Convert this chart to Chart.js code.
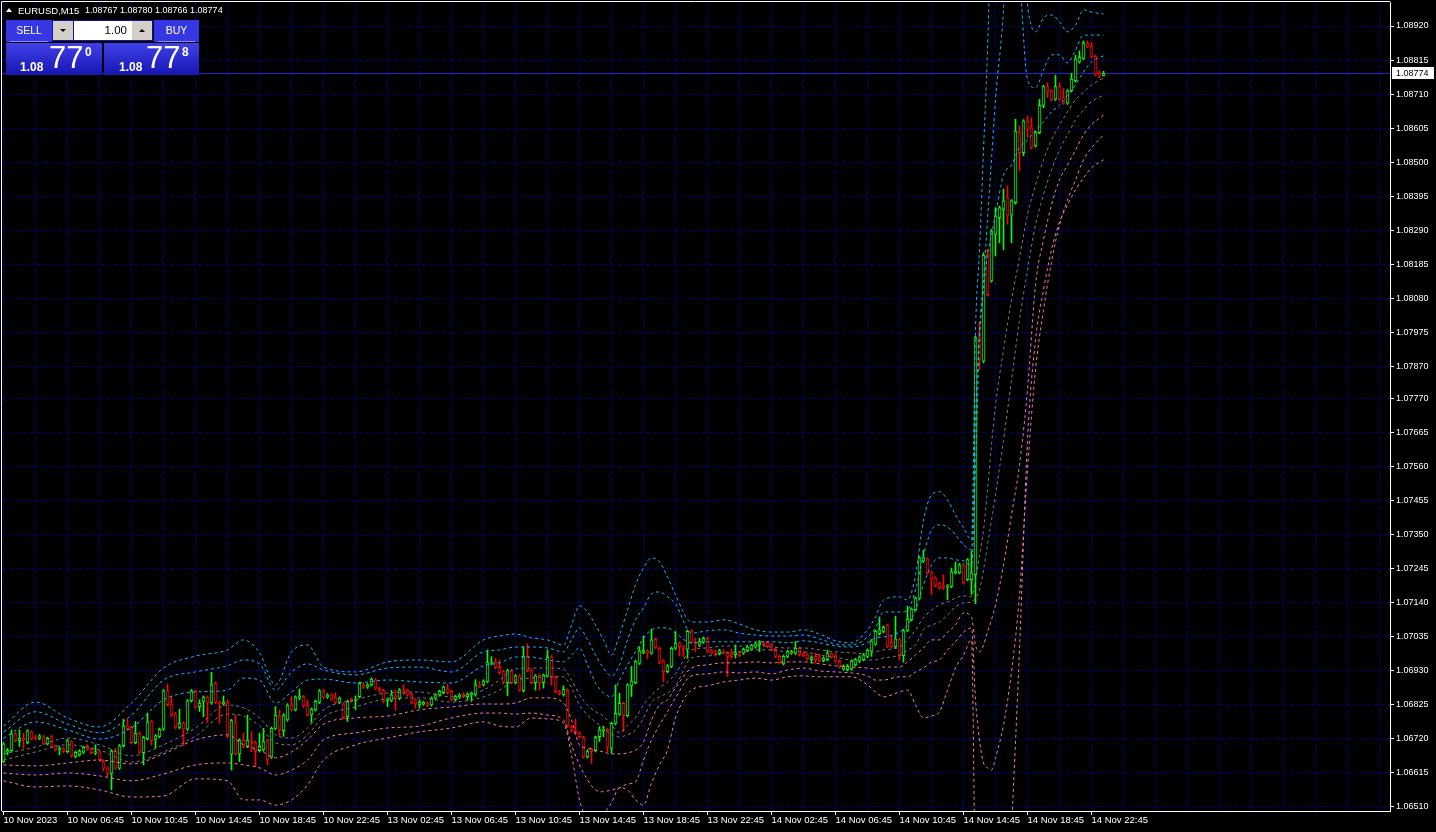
<!DOCTYPE html>
<html lang="en">
<head>
<meta charset="UTF-8" />
<title>EURUSD,M15</title>
<script src="https://cdn.jsdelivr.net/npm/chart.js@4.4.1/dist/chart.umd.min.js"></script>
<style>
  html, body { margin: 0; padding: 0; background: #000; }
  body { width: 1436px; height: 832px; overflow: hidden; position: relative; font-family: "Liberation Sans", Arial, sans-serif; }
  #c { position: absolute; left: 0; top: 0; }
  .hdr { position: absolute; top: 5px; color: #fff; font-size: 9.5px; white-space: nowrap; line-height: 11px; }
  .tri { position: absolute; left: 6px; top: 8px; width: 0; height: 0; border-left: 3px solid transparent; border-right: 3px solid transparent; border-bottom: 4px solid #fff; }
  .btn { position: absolute; top: 20px; height: 22px; background: #3636e2; color: #fff; font-size: 10.5px; text-align: center; line-height: 21px; }
  .btn::after { content: ''; position: absolute; left: 4px; right: 4px; bottom: 0; height: 1px; background: #8c8cff; }
  #lot { position: absolute; left: 52px; top: 20px; width: 101px; height: 21px; background: #14149a; }
  .arr { position: absolute; top: 1px; width: 20px; height: 19px; background: #d4d0c8; }
  .arr span { position: absolute; left: 7px; width: 0; height: 0; border-left: 3px solid transparent; border-right: 3px solid transparent; }
  #dn { left: 1px; } #dn span { top: 8px; border-top: 3px solid #000; }
  #up { left: 80px; } #up span { top: 8px; border-bottom: 3px solid #000; }
  #lotv { position: absolute; left: 22px; top: 1px; width: 58px; height: 19px; background: #fff; color: #000; font-size: 11.5px; text-align: right; line-height: 19px; padding-right: 5px; box-sizing: border-box; }
  .pbox { position: absolute; top: 43px; height: 32px; background: linear-gradient(#4040ea, #1616b0); color: #fff; }
  .pbox .a { position: absolute; top: 17px; font-size: 12px; font-weight: bold; }
  .pbox .b { position: absolute; top: -1px; font-size: 31px; line-height: 31px; }
  .pbox .s { position: absolute; top: 2px; font-size: 12px; font-weight: bold; }
</style>
</head>
<body>
<canvas id="c" width="1436" height="832"></canvas>
<div class="tri"></div>
<div class="hdr" style="left:18px">EURUSD,M15</div>
<div class="hdr" style="left:85px; font-size:9px">1.08767 1.08780 1.08766 1.08774</div>
<div class="btn" style="left:6px; width:46px">SELL</div>
<div id="lot"><div class="arr" id="dn"><span></span></div><div id="lotv">1.00</div><div class="arr" id="up"><span></span></div></div>
<div class="btn" style="left:154px; width:45px">BUY</div>
<div class="pbox" style="left:6px; width:96px"><span class="a" style="left:14px">1.08</span><span class="b" style="left:43px">77</span><span class="s" style="left:79px">0</span></div>
<div class="pbox" style="left:104px; width:95px"><span class="a" style="left:15px">1.08</span><span class="b" style="left:42px">77</span><span class="s" style="left:78px">8</span></div>
<script>
const timeLabels = ['10 Nov 2023', '10 Nov 06:45', '10 Nov 10:45', '10 Nov 14:45', '10 Nov 18:45', '10 Nov 22:45',
  '13 Nov 02:45', '13 Nov 06:45', '13 Nov 10:45', '13 Nov 14:45', '13 Nov 18:45', '13 Nov 22:45',
  '14 Nov 02:45', '14 Nov 06:45', '14 Nov 10:45', '14 Nov 14:45', '14 Nov 18:45', '14 Nov 22:45'];
const priceLabels = ['1.06510', '1.06615', '1.06720', '1.06825', '1.06930', '1.07035', '1.07140', '1.07245',
  '1.07350', '1.07455', '1.07560', '1.07665', '1.07770', '1.07870', '1.07975', '1.08080', '1.08185', '1.08290',
  '1.08395', '1.08500', '1.08605', '1.08710', '1.08815', '1.08920'];
const bid = 1.08774;

const opens = [
  1.06649, 1.06678, 1.06683, 1.06735, 1.06714, 1.06721, 1.06708, 1.06741, 1.06726, 1.06721,
  1.06726, 1.06704, 1.06726, 1.06698, 1.06685, 1.06689, 1.06680, 1.06710, 1.06665, 1.06670,
  1.06678, 1.06696, 1.06688, 1.06675, 1.06679, 1.06649, 1.06629, 1.06613, 1.06682, 1.06629,
  1.06698, 1.06760, 1.06755, 1.06708, 1.06737, 1.06677, 1.06720, 1.06773, 1.06718, 1.06727,
  1.06749, 1.06868, 1.06827, 1.06797, 1.06755, 1.06768, 1.06749, 1.06837, 1.06866, 1.06819,
  1.06835, 1.06848, 1.06830, 1.06891, 1.06832, 1.06827, 1.06833, 1.06672, 1.06769, 1.06673,
  1.06716, 1.06696, 1.06716, 1.06708, 1.06683, 1.06685, 1.06714, 1.06663, 1.06752, 1.06790,
  1.06745, 1.06778, 1.06824, 1.06809, 1.06845, 1.06850, 1.06824, 1.06793, 1.06809, 1.06832,
  1.06868, 1.06848, 1.06855, 1.06847, 1.06832, 1.06827, 1.06788, 1.06842, 1.06838, 1.06850,
  1.06886, 1.06879, 1.06886, 1.06902, 1.06876, 1.06869, 1.06838, 1.06838, 1.06852, 1.06844,
  1.06871, 1.06869, 1.06858, 1.06840, 1.06824, 1.06827, 1.06830, 1.06824, 1.06845, 1.06855,
  1.06862, 1.06873, 1.06866, 1.06840, 1.06848, 1.06858, 1.06850, 1.06855, 1.06855, 1.06886,
  1.06886, 1.06897, 1.06953, 1.06955, 1.06940, 1.06927, 1.06893, 1.06930, 1.06893, 1.06914,
  1.06868, 1.06975, 1.06932, 1.06893, 1.06915, 1.06893, 1.06914, 1.06973, 1.06909, 1.06865,
  1.06855, 1.06870, 1.06757, 1.06744, 1.06737, 1.06724, 1.06664, 1.06687, 1.06683, 1.06726,
  1.06745, 1.06749, 1.06690, 1.06767, 1.06796, 1.06829, 1.06791, 1.06883, 1.06893, 1.06953,
  1.06986, 1.06991, 1.06984, 1.07027, 1.06999, 1.06960, 1.06927, 1.06943, 1.06999, 1.07015,
  1.07004, 1.06996, 1.07053, 1.07017, 1.07009, 1.07018, 1.07030, 1.06992, 1.06986, 1.06982,
  1.06991, 1.06984, 1.06980, 1.06979, 1.06986, 1.06984, 1.06992, 1.06996, 1.07003, 1.07010,
  1.07017, 1.07017, 1.07010, 1.06996, 1.06974, 1.06951, 1.06974, 1.06984, 1.06984, 1.06999,
  1.06984, 1.06979, 1.06964, 1.06974, 1.06972, 1.06961, 1.06964, 1.06982, 1.06979, 1.06959,
  1.06935, 1.06933, 1.06935, 1.06948, 1.06959, 1.06964, 1.06974, 1.06990, 1.07012, 1.07044,
  1.07051, 1.07069, 1.07017, 1.07003, 1.07026, 1.06976, 1.07054, 1.07087, 1.07118, 1.07154,
  1.07268, 1.07275, 1.07234, 1.07216, 1.07199, 1.07192, 1.07188, 1.07190, 1.07232, 1.07232,
  1.07257, 1.07211, 1.07211, 1.07226, 1.07958, 1.07885, 1.08215, 1.08133, 1.08277, 1.08328,
  1.08354, 1.08390, 1.08336, 1.08375, 1.08591, 1.08529, 1.08627, 1.08606, 1.08550, 1.08591,
  1.08675, 1.08733, 1.08720, 1.08694, 1.08733, 1.08699, 1.08682, 1.08720, 1.08751, 1.08809,
  1.08820, 1.08867, 1.08857, 1.08826, 1.08774, 1.08767];
const highs = [
  1.06708, 1.06690, 1.06747, 1.06740, 1.06747, 1.06737, 1.06748, 1.06745, 1.06730, 1.06733,
  1.06730, 1.06725, 1.06730, 1.06700, 1.06696, 1.06693, 1.06718, 1.06714, 1.06682, 1.06686,
  1.06697, 1.06701, 1.06691, 1.06701, 1.06683, 1.06655, 1.06633, 1.06686, 1.06690, 1.06702,
  1.06780, 1.06781, 1.06759, 1.06773, 1.06741, 1.06728, 1.06799, 1.06777, 1.06733, 1.06753,
  1.06872, 1.06889, 1.06852, 1.06801, 1.06811, 1.06772, 1.06841, 1.06872, 1.06870, 1.06840,
  1.06852, 1.06852, 1.06925, 1.06895, 1.06836, 1.06852, 1.06840, 1.06780, 1.06793, 1.06720,
  1.06737, 1.06793, 1.06742, 1.06712, 1.06737, 1.06752, 1.06718, 1.06756, 1.06819, 1.06809,
  1.06797, 1.06828, 1.06850, 1.06852, 1.06873, 1.06854, 1.06840, 1.06815, 1.06839, 1.06872,
  1.06872, 1.06859, 1.06859, 1.06862, 1.06849, 1.06831, 1.06839, 1.06846, 1.06852, 1.06895,
  1.06893, 1.06890, 1.06908, 1.06906, 1.06880, 1.06873, 1.06846, 1.06869, 1.06869, 1.06875,
  1.06886, 1.06873, 1.06862, 1.06844, 1.06840, 1.06836, 1.06834, 1.06849, 1.06859, 1.06870,
  1.06883, 1.06889, 1.06870, 1.06854, 1.06859, 1.06862, 1.06862, 1.06864, 1.06902, 1.06897,
  1.06902, 1.06994, 1.06973, 1.06968, 1.06963, 1.06931, 1.06934, 1.06934, 1.06918, 1.06918,
  1.07004, 1.07013, 1.06936, 1.06918, 1.06919, 1.06920, 1.06994, 1.06977, 1.06913, 1.06869,
  1.06883, 1.06874, 1.06761, 1.06780, 1.06741, 1.06728, 1.06686, 1.06691, 1.06728, 1.06757,
  1.06759, 1.06753, 1.06771, 1.06886, 1.06860, 1.06833, 1.06890, 1.06943, 1.06962, 1.07004,
  1.07037, 1.06995, 1.07058, 1.07031, 1.07003, 1.06964, 1.06949, 1.07003, 1.07051, 1.07019,
  1.07008, 1.07055, 1.07057, 1.07030, 1.07030, 1.07034, 1.07034, 1.06996, 1.06994, 1.06996,
  1.06995, 1.06988, 1.06996, 1.07010, 1.06990, 1.07000, 1.07007, 1.07011, 1.07017, 1.07023,
  1.07021, 1.07021, 1.07014, 1.07000, 1.06978, 1.06978, 1.06993, 1.06993, 1.07020, 1.07003,
  1.06988, 1.06983, 1.06976, 1.06984, 1.06982, 1.06973, 1.06994, 1.06986, 1.06983, 1.06963,
  1.06948, 1.06949, 1.06963, 1.06968, 1.06976, 1.06983, 1.06997, 1.07026, 1.07055, 1.07096,
  1.07068, 1.07073, 1.07036, 1.07098, 1.07030, 1.07058, 1.07129, 1.07124, 1.07158, 1.07282,
  1.07302, 1.07279, 1.07238, 1.07220, 1.07203, 1.07226, 1.07196, 1.07247, 1.07265, 1.07261,
  1.07261, 1.07276, 1.07299, 1.07962, 1.08004, 1.08220, 1.08231, 1.08292, 1.08359, 1.08364,
  1.08416, 1.08426, 1.08384, 1.08632, 1.08612, 1.08631, 1.08642, 1.08637, 1.08595, 1.08694,
  1.08737, 1.08745, 1.08724, 1.08768, 1.08745, 1.08727, 1.08724, 1.08774, 1.08830, 1.08843,
  1.08874, 1.08874, 1.08869, 1.08830, 1.08782, 1.08780];
const lows = [
  1.06646, 1.06670, 1.06680, 1.06710, 1.06696, 1.06690, 1.06704, 1.06716, 1.06716, 1.06717,
  1.06702, 1.06700, 1.06692, 1.06681, 1.06670, 1.06676, 1.06676, 1.06663, 1.06661, 1.06666,
  1.06674, 1.06684, 1.06673, 1.06670, 1.06650, 1.06620, 1.06605, 1.06562, 1.06625, 1.06625,
  1.06694, 1.06747, 1.06704, 1.06704, 1.06674, 1.06639, 1.06716, 1.06701, 1.06690, 1.06723,
  1.06745, 1.06821, 1.06789, 1.06751, 1.06751, 1.06699, 1.06745, 1.06833, 1.06813, 1.06804,
  1.06788, 1.06770, 1.06826, 1.06828, 1.06768, 1.06823, 1.06723, 1.06623, 1.06669, 1.06649,
  1.06692, 1.06692, 1.06680, 1.06634, 1.06679, 1.06681, 1.06639, 1.06659, 1.06748, 1.06727,
  1.06727, 1.06774, 1.06805, 1.06805, 1.06840, 1.06817, 1.06789, 1.06770, 1.06805, 1.06828,
  1.06844, 1.06844, 1.06838, 1.06828, 1.06828, 1.06781, 1.06773, 1.06831, 1.06809, 1.06846,
  1.06875, 1.06875, 1.06882, 1.06872, 1.06862, 1.06831, 1.06819, 1.06834, 1.06807, 1.06840,
  1.06856, 1.06851, 1.06828, 1.06814, 1.06814, 1.06823, 1.06819, 1.06820, 1.06841, 1.06851,
  1.06858, 1.06858, 1.06836, 1.06836, 1.06844, 1.06846, 1.06840, 1.06835, 1.06851, 1.06877,
  1.06882, 1.06893, 1.06948, 1.06936, 1.06920, 1.06889, 1.06853, 1.06889, 1.06889, 1.06866,
  1.06864, 1.06926, 1.06889, 1.06870, 1.06870, 1.06876, 1.06910, 1.06886, 1.06861, 1.06854,
  1.06851, 1.06755, 1.06741, 1.06733, 1.06722, 1.06660, 1.06660, 1.06644, 1.06679, 1.06711,
  1.06726, 1.06680, 1.06675, 1.06763, 1.06792, 1.06742, 1.06787, 1.06850, 1.06889, 1.06949,
  1.06982, 1.06968, 1.06980, 1.06998, 1.06951, 1.06896, 1.06923, 1.06939, 1.06995, 1.06975,
  1.06973, 1.06968, 1.07013, 1.06989, 1.07004, 1.07014, 1.06985, 1.06980, 1.06975, 1.06978,
  1.06982, 1.06912, 1.06968, 1.06969, 1.06972, 1.06980, 1.06988, 1.06993, 1.06999, 1.06989,
  1.07006, 1.07001, 1.06990, 1.06970, 1.06951, 1.06947, 1.06970, 1.06980, 1.06980, 1.06975,
  1.06972, 1.06962, 1.06953, 1.06953, 1.06957, 1.06957, 1.06960, 1.06968, 1.06955, 1.06937,
  1.06931, 1.06929, 1.06931, 1.06944, 1.06955, 1.06960, 1.06970, 1.06974, 1.07008, 1.07040,
  1.07047, 1.07001, 1.06999, 1.06999, 1.06962, 1.06956, 1.07050, 1.07083, 1.07114, 1.07150,
  1.07264, 1.07228, 1.07165, 1.07188, 1.07181, 1.07181, 1.07149, 1.07186, 1.07228, 1.07228,
  1.07197, 1.07207, 1.07165, 1.07137, 1.07860, 1.07880, 1.08086, 1.08129, 1.08210, 1.08251,
  1.08230, 1.08308, 1.08251, 1.08370, 1.08473, 1.08519, 1.08576, 1.08540, 1.08546, 1.08587,
  1.08668, 1.08699, 1.08688, 1.08690, 1.08690, 1.08678, 1.08678, 1.08716, 1.08747, 1.08805,
  1.08816, 1.08853, 1.08822, 1.08767, 1.08760, 1.08766];
const closes = [
  1.06704, 1.06684, 1.06735, 1.06714, 1.06721, 1.06717, 1.06744, 1.06721, 1.06721, 1.06729,
  1.06706, 1.06721, 1.06696, 1.06685, 1.06690, 1.06680, 1.06714, 1.06667, 1.06678, 1.06682,
  1.06693, 1.06687, 1.06677, 1.06679, 1.06654, 1.06629, 1.06613, 1.06682, 1.06629, 1.06698,
  1.06759, 1.06751, 1.06708, 1.06737, 1.06678, 1.06724, 1.06772, 1.06714, 1.06729, 1.06749,
  1.06868, 1.06825, 1.06793, 1.06755, 1.06768, 1.06749, 1.06837, 1.06868, 1.06817, 1.06830,
  1.06848, 1.06830, 1.06886, 1.06832, 1.06827, 1.06834, 1.06727, 1.06776, 1.06673, 1.06716,
  1.06696, 1.06716, 1.06708, 1.06683, 1.06696, 1.06711, 1.06656, 1.06752, 1.06793, 1.06747,
  1.06793, 1.06824, 1.06809, 1.06848, 1.06852, 1.06821, 1.06793, 1.06811, 1.06835, 1.06868,
  1.06848, 1.06855, 1.06842, 1.06832, 1.06845, 1.06785, 1.06835, 1.06835, 1.06842, 1.06891,
  1.06879, 1.06886, 1.06904, 1.06876, 1.06869, 1.06835, 1.06842, 1.06855, 1.06844, 1.06871,
  1.06860, 1.06855, 1.06832, 1.06827, 1.06832, 1.06832, 1.06823, 1.06845, 1.06855, 1.06866,
  1.06879, 1.06862, 1.06840, 1.06850, 1.06855, 1.06850, 1.06858, 1.06860, 1.06886, 1.06881,
  1.06898, 1.06955, 1.06957, 1.06940, 1.06924, 1.06893, 1.06930, 1.06893, 1.06914, 1.06870,
  1.06975, 1.06930, 1.06893, 1.06914, 1.06893, 1.06916, 1.06971, 1.06909, 1.06865, 1.06858,
  1.06872, 1.06759, 1.06745, 1.06737, 1.06726, 1.06664, 1.06682, 1.06680, 1.06724, 1.06747,
  1.06749, 1.06693, 1.06767, 1.06798, 1.06829, 1.06791, 1.06886, 1.06898, 1.06958, 1.06991,
  1.06992, 1.06984, 1.07025, 1.07002, 1.06955, 1.06927, 1.06945, 1.06999, 1.07015, 1.07004,
  1.06996, 1.07051, 1.07017, 1.07013, 1.07020, 1.07030, 1.06989, 1.06984, 1.06982, 1.06992,
  1.06986, 1.06974, 1.06972, 1.06986, 1.06976, 1.06996, 1.07003, 1.07007, 1.07013, 1.07017,
  1.07010, 1.07005, 1.06994, 1.06974, 1.06955, 1.06974, 1.06989, 1.06989, 1.06999, 1.06979,
  1.06976, 1.06966, 1.06972, 1.06964, 1.06961, 1.06969, 1.06984, 1.06972, 1.06959, 1.06941,
  1.06943, 1.06945, 1.06959, 1.06964, 1.06972, 1.06979, 1.06993, 1.07022, 1.07051, 1.07056,
  1.07064, 1.07005, 1.07003, 1.07028, 1.06976, 1.07054, 1.07089, 1.07120, 1.07154, 1.07278,
  1.07278, 1.07232, 1.07213, 1.07192, 1.07185, 1.07185, 1.07192, 1.07235, 1.07237, 1.07257,
  1.07201, 1.07273, 1.07232, 1.07958, 1.07891, 1.08212, 1.08091, 1.08287, 1.08334, 1.08359,
  1.08380, 1.08334, 1.08380, 1.08596, 1.08529, 1.08627, 1.08601, 1.08545, 1.08591, 1.08675,
  1.08733, 1.08717, 1.08692, 1.08733, 1.08694, 1.08682, 1.08720, 1.08756, 1.08818, 1.08823,
  1.08867, 1.08857, 1.08826, 1.08771, 1.08764, 1.08774];

// band lines, read at these bar numbers
const bandBars = [0, 8, 16, 24, 32, 40, 48, 56, 60, 64, 68, 72, 76, 80, 88, 96, 104, 112, 120, 124,
  128, 132, 136, 140, 142, 144, 146, 148, 150, 152, 154, 156, 158, 160, 162, 164, 166, 168, 172, 176,
  180, 184, 188, 192, 196, 200, 204, 208, 212, 216, 218, 220, 224, 226, 228, 230, 232, 234, 236, 238,
  240, 242, 243, 244, 245, 246, 247, 248, 250, 252, 254, 256, 258, 260, 262, 264, 266, 268, 270, 272, 275];
const upper3 = [1.06759, 1.06833, 1.06784, 1.06756, 1.06830, 1.06938, 1.06975, 1.06994, 1.07025, 1.06985,
  1.06886, 1.06988, 1.07009, 1.06941, 1.06926, 1.06957, 1.06963, 1.06957, 1.07025, 1.07037,
  1.07043, 1.07031, 1.07025, 1.07009, 1.07071, 1.07130, 1.07111, 1.07071, 1.07025, 1.06978,
  1.07040, 1.07117, 1.07195, 1.07247, 1.07278, 1.07266, 1.07219, 1.07164, 1.07080, 1.07080,
  1.07087, 1.07074, 1.07056, 1.07049, 1.07049, 1.07056, 1.07043, 1.07022, 1.07016, 1.07056,
  1.07096, 1.07148, 1.07158, 1.07148, 1.07225, 1.07395, 1.07472, 1.07482, 1.07457, 1.07411,
  1.07371, 1.07333, 1.07982, 1.08229, 1.08537, 1.08846, 1.09309, 1.09927, 1.10081, 1.09927,
  1.09309, 1.08985, 1.08902, 1.08945, 1.08954, 1.08933, 1.08902, 1.08923, 1.08970, 1.08963, 1.08957];
const upper2 = [1.06741, 1.06803, 1.06765, 1.06738, 1.06793, 1.06901, 1.06926, 1.06945, 1.06963, 1.06951,
  1.06870, 1.06926, 1.06951, 1.06932, 1.06917, 1.06938, 1.06941, 1.06926, 1.06988, 1.06994,
  1.07003, 1.07003, 1.07000, 1.06988, 1.07025, 1.07062, 1.07025, 1.06978, 1.06938, 1.06914,
  1.06948, 1.07025, 1.07087, 1.07124, 1.07167, 1.07173, 1.07158, 1.07136, 1.07046, 1.07053,
  1.07056, 1.07046, 1.07040, 1.07037, 1.07037, 1.07040, 1.07028, 1.07012, 1.07009, 1.07034,
  1.07062, 1.07111, 1.07111, 1.07117, 1.07179, 1.07287, 1.07364, 1.07380, 1.07374, 1.07349,
  1.07318, 1.07303, 1.07704, 1.07982, 1.08136, 1.08321, 1.08507, 1.08692, 1.08970, 1.09464,
  1.09093, 1.08754, 1.08729, 1.08784, 1.08831, 1.08831, 1.08806, 1.08846, 1.08892, 1.08892, 1.08892];
const upper1 = [1.06722, 1.06772, 1.06747, 1.06719, 1.06753, 1.06840, 1.06864, 1.06870, 1.06907, 1.06901,
  1.06830, 1.06864, 1.06901, 1.06904, 1.06892, 1.06901, 1.06895, 1.06892, 1.06945, 1.06954,
  1.06972, 1.06972, 1.06963, 1.06957, 1.06978, 1.07000, 1.06948, 1.06892, 1.06861, 1.06849,
  1.06901, 1.06948, 1.06988, 1.07031, 1.07056, 1.07062, 1.07062, 1.07046, 1.07016, 1.07019,
  1.07019, 1.07019, 1.07019, 1.07019, 1.07016, 1.07022, 1.07016, 1.07006, 1.07003, 1.07016,
  1.07031, 1.07034, 1.07049, 1.07071, 1.07117, 1.07195, 1.07256, 1.07278, 1.07278, 1.07272,
  1.07269, 1.07256, 1.07550, 1.07951, 1.08105, 1.08213, 1.08275, 1.08337, 1.08460, 1.08491,
  1.08544, 1.08568, 1.08599, 1.08624, 1.08655, 1.08676, 1.08707, 1.08738, 1.08778, 1.08809, 1.08828];
const middleA = [1.06673, 1.06694, 1.06722, 1.06701, 1.06667, 1.06701, 1.06753, 1.06824, 1.06815, 1.06784,
  1.06732, 1.06722, 1.06753, 1.06809, 1.06840, 1.06861, 1.06864, 1.06849, 1.06870, 1.06901,
  1.06935, 1.06938, 1.06938, 1.06935, 1.06901, 1.06855, 1.06824, 1.06803, 1.06790, 1.06762,
  1.06738, 1.06762, 1.06784, 1.06824, 1.06855, 1.06877, 1.06895, 1.06920, 1.06994, 1.07000,
  1.07006, 1.07006, 1.07009, 1.07003, 1.07000, 1.07000, 1.06994, 1.06988, 1.06985, 1.06982,
  1.06988, 1.06994, 1.07003, 1.07025, 1.07056, 1.07093, 1.07117, 1.07133, 1.07142, 1.07154,
  1.07161, 1.07158, 1.07210, 1.07287, 1.07364, 1.07488, 1.07627, 1.07750, 1.07920, 1.08074,
  1.08204, 1.08337, 1.08429, 1.08507, 1.08568, 1.08615, 1.08655, 1.08692, 1.08716, 1.08738, 1.08760];
const middleB = [1.06654, 1.06679, 1.06701, 1.06685, 1.06648, 1.06679, 1.06728, 1.06796, 1.06790, 1.06759,
  1.06707, 1.06701, 1.06732, 1.06787, 1.06818, 1.06843, 1.06846, 1.06833, 1.06849, 1.06870,
  1.06901, 1.06907, 1.06911, 1.06911, 1.06877, 1.06824, 1.06793, 1.06772, 1.06753, 1.06732,
  1.06725, 1.06732, 1.06747, 1.06784, 1.06833, 1.06849, 1.06861, 1.06883, 1.06969, 1.06975,
  1.06985, 1.06988, 1.06994, 1.06994, 1.06988, 1.06988, 1.06978, 1.06972, 1.06963, 1.06963,
  1.06963, 1.06969, 1.06978, 1.06994, 1.07009, 1.07056, 1.07071, 1.07080, 1.07102, 1.07127,
  1.07139, 1.07142, 1.07154, 1.07179, 1.07241, 1.07318, 1.07395, 1.07472, 1.07642, 1.07827,
  1.08013, 1.08167, 1.08306, 1.08399, 1.08476, 1.08537, 1.08584, 1.08630, 1.08661, 1.08686, 1.08707];
const lower1 = [1.06639, 1.06636, 1.06645, 1.06654, 1.06642, 1.06673, 1.06716, 1.06732, 1.06701, 1.06685,
  1.06661, 1.06679, 1.06716, 1.06765, 1.06784, 1.06790, 1.06809, 1.06818, 1.06827, 1.06827,
  1.06830, 1.06846, 1.06846, 1.06830, 1.06778, 1.06701, 1.06691, 1.06685, 1.06679, 1.06673,
  1.06673, 1.06676, 1.06685, 1.06710, 1.06778, 1.06824, 1.06840, 1.06877, 1.06938, 1.06948,
  1.06954, 1.06954, 1.06957, 1.06954, 1.06957, 1.06957, 1.06951, 1.06945, 1.06941, 1.06938,
  1.06935, 1.06941, 1.06941, 1.06957, 1.06978, 1.07000, 1.07025, 1.07025, 1.07049, 1.07071,
  1.07108, 1.07096, 1.07009, 1.06988, 1.07009, 1.07049, 1.07087, 1.07133, 1.07256, 1.07411,
  1.07565, 1.07797, 1.08121, 1.08260, 1.08368, 1.08445, 1.08491, 1.08537, 1.08584, 1.08615, 1.08645];
const lower2 = [1.06614, 1.06608, 1.06614, 1.06605, 1.06590, 1.06611, 1.06639, 1.06645, 1.06639, 1.06630,
  1.06608, 1.06623, 1.06654, 1.06716, 1.06738, 1.06753, 1.06759, 1.06784, 1.06799, 1.06799,
  1.06796, 1.06799, 1.06793, 1.06778, 1.06701, 1.06639, 1.06593, 1.06562, 1.06556, 1.06562,
  1.06568, 1.06580, 1.06586, 1.06654, 1.06716, 1.06762, 1.06803, 1.06846, 1.06914, 1.06920,
  1.06926, 1.06923, 1.06926, 1.06920, 1.06932, 1.06938, 1.06929, 1.06926, 1.06923, 1.06914,
  1.06901, 1.06901, 1.06911, 1.06911, 1.06926, 1.06938, 1.06957, 1.06963, 1.06994, 1.07019,
  1.07049, 1.07062, 1.06840, 1.06716, 1.06645, 1.06630, 1.06623, 1.06661, 1.06762, 1.06926,
  1.07164, 1.07550, 1.07858, 1.08044, 1.08192, 1.08306, 1.08383, 1.08445, 1.08507, 1.08544, 1.08584];
const lower3 = [1.06590, 1.06571, 1.06574, 1.06562, 1.06540, 1.06543, 1.06596, 1.06590, 1.06531, 1.06531,
  1.06515, 1.06531, 1.06577, 1.06654, 1.06701, 1.06722, 1.06741, 1.06753, 1.06772, 1.06759,
  1.06756, 1.06784, 1.06781, 1.06769, 1.06670, 1.06531, 1.06469, 1.06438, 1.06485, 1.06522,
  1.06568, 1.06562, 1.06531, 1.06515, 1.06583, 1.06639, 1.06685, 1.06784, 1.06870, 1.06883,
  1.06895, 1.06901, 1.06907, 1.06901, 1.06911, 1.06914, 1.06911, 1.06911, 1.06911, 1.06886,
  1.06864, 1.06849, 1.06864, 1.06870, 1.06824, 1.06784, 1.06790, 1.06803, 1.06870, 1.06938,
  1.06978, 1.07025, 1.06222, 1.05913, 1.05605, 1.05605, 1.05605, 1.05605, 1.05913, 1.06438,
  1.06994, 1.07642, 1.07951, 1.08105, 1.08229, 1.08315, 1.08368, 1.08414, 1.08451, 1.08482, 1.08507];

const idx = closes.map((c, i) => i);
const colors = closes.map((c, i) => c >= opens[i] ? '#00ff00' : '#ff0000');
const gridIdx = [];
for (let i = 0; i <= 344; i += 8) gridIdx.push(i);

const GRID = '#00007a';
const BLUE = '#16b4ff';
const GREY = '#7a7a7a';
const PINK = '#f07c98';
const font = { family: '"Liberation Sans", Arial, sans-serif' };

function band(label, values, color) {
  return {
    type: 'line',
    label: label,
    data: bandBars.map((b, k) => ({ x: b, y: values[k] })),
    borderColor: color,
    borderWidth: 1,
    borderDash: [3, 3],
    pointRadius: 0,
    fill: false,
    cubicInterpolationMode: 'monotone'
  };
}

const framePlugin = {
  id: 'frame',
  beforeDatasetsDraw(chart) {
    const { ctx, chartArea: a, scales: { y } } = chart;
    const py = Math.round(y.getPixelForValue(bid)) + 0.5;
    ctx.save();
    ctx.strokeStyle = '#2020d0';
    ctx.lineWidth = 1;
    ctx.beginPath(); ctx.moveTo(a.left, py); ctx.lineTo(a.right, py); ctx.stroke();
    ctx.restore();
  },
  afterDraw(chart) {
    const { ctx, chartArea: a, scales: { y } } = chart;
    ctx.save();
    ctx.strokeStyle = '#fff';
    ctx.lineWidth = 1;
    ctx.beginPath();
    ctx.moveTo(1.5, a.bottom); ctx.lineTo(1.5, 1.5); ctx.lineTo(a.right, 1.5);
    ctx.stroke();
    const py = Math.round(y.getPixelForValue(bid));
    ctx.fillStyle = '#fff';
    ctx.fillRect(a.right + 2, py - 6, 42, 12);
    ctx.fillStyle = '#000';
    ctx.font = '9px "Liberation Sans", Arial, sans-serif';
    ctx.textBaseline = 'middle';
    ctx.fillText(bid.toFixed(5), a.right + 6, py + 0.5);
    ctx.restore();
  }
};

new Chart(document.getElementById('c'), {
  type: 'bar',
  data: {
    datasets: [
      band('upper 3', upper3, BLUE),
      band('upper 2', upper2, BLUE),
      band('upper 1', upper1, BLUE),
      band('middle a', middleA, GREY),
      band('middle b', middleB, GREY),
      band('lower 1', lower1, PINK),
      band('lower 2', lower2, PINK),
      band('lower 3', lower3, PINK),
      {
        label: 'body',
        data: idx.map(i => ({ x: i, y: [opens[i], closes[i]] })),
        backgroundColor: '#000',
        borderColor: colors,
        borderWidth: 1,
        borderSkipped: false,
        barThickness: 3,
        minBarLength: 1,
        grouped: false
      },
      {
        label: 'wick',
        data: idx.map(i => ({ x: i, y: [lows[i], highs[i]] })),
        backgroundColor: colors,
        borderWidth: 0,
        barThickness: 1,
        grouped: false
      }
    ]
  },
  options: {
    responsive: false,
    animation: false,
    devicePixelRatio: 1,
    layout: { padding: { left: 2, top: 2, right: 0, bottom: 0 } },
    plugins: { legend: { display: false }, tooltip: { enabled: false } },
    scales: {
      x: {
        type: 'linear',
        min: -0.375,
        max: 346.625,
        offset: false,
        afterBuildTicks: s => { s.ticks = gridIdx.map(v => ({ value: v })); },
        afterFit: s => { s.height = 21; s.paddingLeft = 0; s.paddingRight = 0; },
        ticks: {
          autoSkip: false, maxRotation: 0, align: 'start', padding: 0, color: '#fff',
          font: { ...font, size: 9.5 },
          callback: v => (v % 16 === 0 && timeLabels[v / 16]) ? timeLabels[v / 16] : ''
        },
        grid: {
          color: GRID, offset: false, tickLength: 4,
          tickColor: c => (c.tick && c.tick.value % 16 === 0 && timeLabels[c.tick.value / 16]) ? '#fff' : 'rgba(0,0,0,0)'
        },
        border: { display: true, color: '#fff', dash: [4, 3] }
      },
      y: {
        position: 'right',
        min: 1.064967,
        max: 1.089941,
        afterBuildTicks: s => { s.ticks = priceLabels.map(t => ({ value: parseFloat(t) })); },
        afterFit: s => { s.width = 46; s.paddingTop = 0; s.paddingBottom = 0; },
        ticks: {
          autoSkip: false, padding: 2, color: '#fff',
          font: { ...font, size: 9 },
          callback: (v, i) => priceLabels[i]
        },
        grid: { color: GRID, tickLength: 4, tickColor: '#fff' },
        border: { display: true, color: '#fff', dash: [4, 3] }
      }
    }
  },
  plugins: [framePlugin]
});
</script>
</body>
</html>
